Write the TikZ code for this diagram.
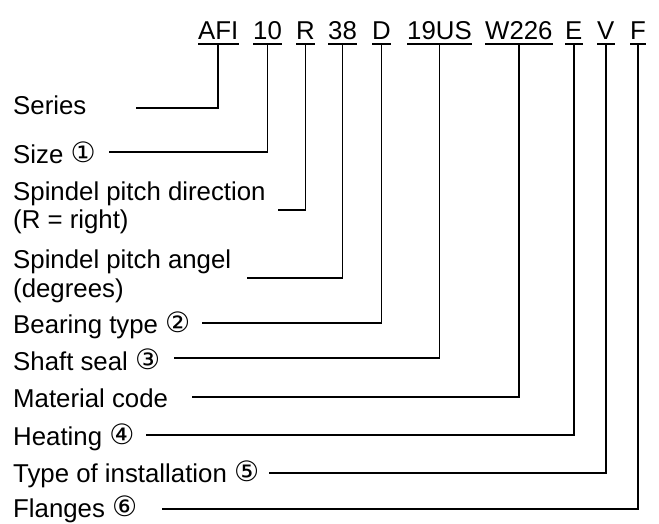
\documentclass[tikz,border=0pt]{standalone}
\usepackage{fontspec}
\setmainfont{Liberation Sans}
\newfontfamily\circfont{DejaVu Sans}
\newcommand{\circd}[1]{\raisebox{0.5pt}{\circfont\fontsize{28}{28}\selectfont #1}}
\begin{document}
\begin{tikzpicture}[x=1pt,y=-1pt,
  lbl/.style={anchor=base west,inner sep=0pt,font=\fontsize{25.8}{28}\selectfont},
  code/.style={anchor=base west,inner sep=0pt,font=\fontsize{25.8}{28}\selectfont},
  ln/.style={line width=1.6pt,line cap=rect},
  uline/.style={line width=1.6pt}]
\useasboundingbox (0,0) rectangle (659,523);
% code letters
\node[code] (c1) at (198,39) {AFI};
\node[code] (c2) at (253,39) {10};
\node[code] (c3) at (296,39) {R};
\node[code] (c4) at (328,39) {38};
\node[code] (c5) at (372,39) {D};
\node[code] (c6) at (407,39) {19US};
\node[code] (c7) at (485,39) {W226};
\node[code] (c8) at (565,39) {E};
\node[code] (c9) at (597,39) {V};
\node[code] (c10) at (630,39) {F};
\foreach \i in {1,...,10}{
  \draw[uline] ([yshift=-4.5pt]c\i.south west) -- ([yshift=-4.5pt]c\i.south east);
  \coordinate (u\i) at ([yshift=-4.5pt]c\i.south);
}
% labels
\node[lbl] (l1) at (13,114) {Series};
\node[lbl] (l2) at (13,163) {Size \circd{①}};
\node[lbl] (l3) at (13,200) {Spindel pitch direction};
\node[lbl] (l3b) at (13,228) {(R = right)};
\node[lbl] (l4) at (13,268) {Spindel pitch angel};
\node[lbl] (l4b) at (13,297) {(degrees)};
\node[lbl] (l5) at (13,333) {Bearing type \circd{②}};
\node[lbl] (l6) at (13,370) {Shaft seal \circd{③}};
\node[lbl] (l7) at (13,407) {Material code};
\node[lbl] (l8) at (13,445) {Heating \circd{④}};
\node[lbl] (l9) at (13,482) {Type of installation \circd{⑤}};
\node[lbl] (l10) at (13,517) {Flanges \circd{⑥}};
% line starts
\coordinate (s1) at (137,108);
\coordinate (s2) at (110,152);
\coordinate (s3) at (279,210);
\coordinate (s4) at (248,278);
\coordinate (s5) at (203,323);
\coordinate (s6) at (175,358);
\coordinate (s7) at (193,397);
\coordinate (s8) at (147,435);
\coordinate (s9) at (270,473);
\coordinate (s10) at (163,509);
\foreach \i in {1,...,10}{
  \draw[ln] (s\i) -| (u\i);
}
\end{tikzpicture}
\end{document}
